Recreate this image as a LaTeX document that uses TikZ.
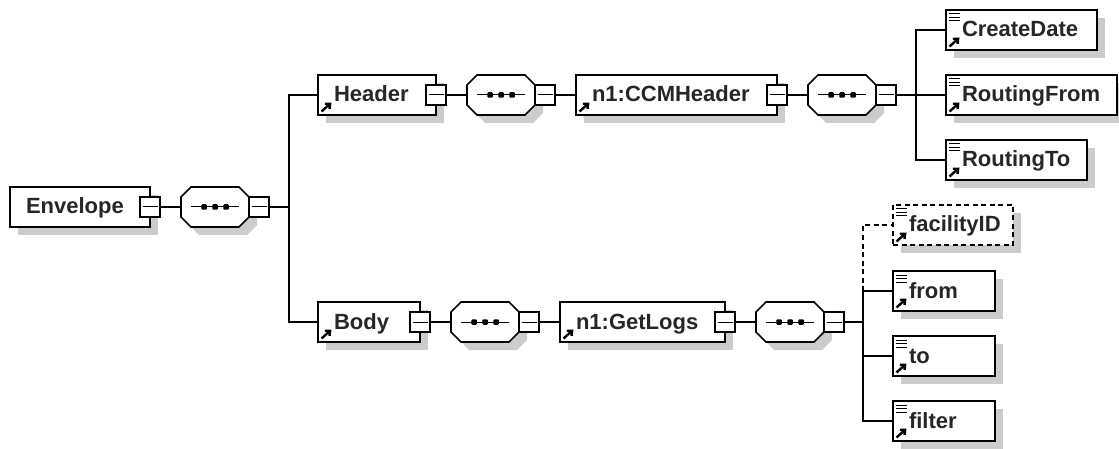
\documentclass[tikz,border=0pt]{standalone}
\usepackage{fontspec}
\setmainfont{Liberation Sans}
\usetikzlibrary{arrows.meta, positioning, shadows}

\definecolor{shadowgray}{gray}{0.8}

\tikzset{
    boxshadow/.style = {drop shadow = {shadow xshift = 8pt, shadow yshift = -8pt, fill = shadowgray, opacity = 1}},
    plainelem/.style = {
        draw = black, fill = white, rectangle, boxshadow,
        minimum height = 40pt, minimum width = #1, text width = #1-16pt,
        inner xsep = 8pt, inner ysep = 0pt, outer sep = 0pt,
        text height = 15pt, text depth = 1pt,
        execute at begin node = {\hspace*{8pt}},
        font = \bfseries\fontsize{22}{24}\selectfont, text = black!85
    },
    % complex type, arrow in the lower corner
    refelem/.style = {
        plainelem = #1,
        path picture = {
            \draw[solid, line width = 2.4pt, -{Straight Barb[length = 4pt, width = 7pt]}]
                ([shift = {(3.5pt, 3.5pt)}]path picture bounding box.south west) -- ++(10pt, 9pt);
        }
    },
    % leaf element, with text lines above the arrow
    leafelem/.style = {
        plainelem = #1,
        path picture = {
            \draw[solid, line width = 2.4pt, -{Straight Barb[length = 4pt, width = 7pt]}]
                ([shift = {(3.5pt, 3.5pt)}]path picture bounding box.south west) -- ++(10pt, 9pt);
            \foreach \ln in {4, 7.5, 11}
                \draw[solid, line width = 1pt] ([shift = {(3pt, -\ln pt)}]path picture bounding box.north west) -- ++(11pt, 0);
        }
    },
    seqbox/.style = {
        rectangle, minimum width = 68pt, minimum height = 40pt, inner sep = 0pt, outer sep = 0pt
    },
    minusbox/.style = {
        draw = black, fill = white, rectangle, minimum size = 20pt, inner sep = 0pt, outer sep = 0pt,
        path picture = {
            \draw[line width = 1pt] ([xshift = 2.5pt]path picture bounding box.west) -- ([xshift = -2.5pt]path picture bounding box.east);
        }
    },
    optline/.style = {dash pattern = on 5pt off 3.5pt}
}

\newcommand{\octpath}{(-24,20) -- (24,20) -- (34,10) -- (34,-10) -- (24,-20) -- (-24,-20) -- (-34,-10) -- (-34,10) -- cycle}

% sequence symbol, with its minus box on the right
\newcommand{\seqnode}[2]{
    \node[seqbox] (#1) [right = 21pt of #2] {};
    \begin{scope}[shift = {(#1.center)}]
        \fill[shadowgray, shift = {(8,-8)}] \octpath;
        \draw[fill = white] \octpath;
        \draw[line width = 1pt] (-24,0) -- (24,0);
        \foreach \dx in {-11, 0, 11}
            \fill[rounded corners = 1pt] (\dx-2.75,-2.75) rectangle ++(5.5,5.5);
    \end{scope}
    \node[minusbox, anchor = west] (#1m) at (#1.east) {};
}

\begin{document}
\begin{tikzpicture}[
            x = 1pt, y = 1pt,
            node distance = 21pt,
            line width = 1.6pt
        ]

        \useasboundingbox (0,0) rectangle (1119,-449);

        \node[plainelem = 140pt] (envelope) at (80,-207) {Envelope};
        \node[minusbox] (envelopem) at (envelope.east) {};
        \seqnode{seq0}{envelopem}
        \coordinate[right = 20pt of seq0m] (j0);

        % header branch
        \node[refelem = 118pt] (header) [right = 29pt of j0, yshift = 112pt] {Header};
        \node[minusbox] (headerm) at (header.east) {};
        \seqnode{seq1}{headerm}
        \node[refelem = 201pt] (ccm) [right = 21pt of seq1m] {n1:CCMHeader};
        \node[minusbox] (ccmm) at (ccm.east) {};
        \seqnode{seq2}{ccmm}
        \coordinate[right = 20pt of seq2m] (j2);

        \node[leafelem = 151pt] (create) [right = 30pt of j2, yshift = 65pt] {CreateDate};
        \node[leafelem = 171pt] (rfrom) [right = 30pt of j2] {RoutingFrom};
        \node[leafelem = 141pt] (rto) [right = 30pt of j2, yshift = -65pt] {RoutingTo};

        % body branch
        \node[refelem = 102pt] (body) [right = 29pt of j0, yshift = -115pt] {Body};
        \node[minusbox] (bodym) at (body.east) {};
        \seqnode{seq3}{bodym}
        \node[refelem = 165pt] (logs) [right = 21pt of seq3m] {n1:GetLogs};
        \node[minusbox] (logsm) at (logs.east) {};
        \seqnode{seq4}{logsm}
        \coordinate[right = 19pt of seq4m] (j4);

        \node[leafelem = 120pt, optline] (facility) [right = 30pt of j4, yshift = 97pt] {facilityID};
        \node[leafelem = 102pt] (from) [right = 30pt of j4, yshift = 31pt] {from};
        \node[leafelem = 102pt] (to) [right = 30pt of j4, yshift = -34pt] {to};
        \node[leafelem = 102pt] (filter) [right = 30pt of j4, yshift = -99pt] {filter};

        \draw (envelopem) -- (seq0);
        \draw (seq0m) -- (j0);
        \draw (j0) |- (header);
        \draw (j0) |- (body);

        \draw (headerm) -- (seq1);
        \draw (seq1m) -- (ccm);
        \draw (ccmm) -- (seq2);
        \draw (seq2m) -- (rfrom);
        \draw (j2) |- (create);
        \draw (j2) |- (rto);

        \draw (bodym) -- (seq3);
        \draw (seq3m) -- (logs);
        \draw (logsm) -- (seq4);
        \draw (seq4m) -- (j4);
        \draw (j4) |- (from);
        \draw (j4) |- (to);
        \draw (j4) |- (filter);
        \draw[optline] (j4 |- from) |- (facility);

    \end{tikzpicture}
\end{document}
